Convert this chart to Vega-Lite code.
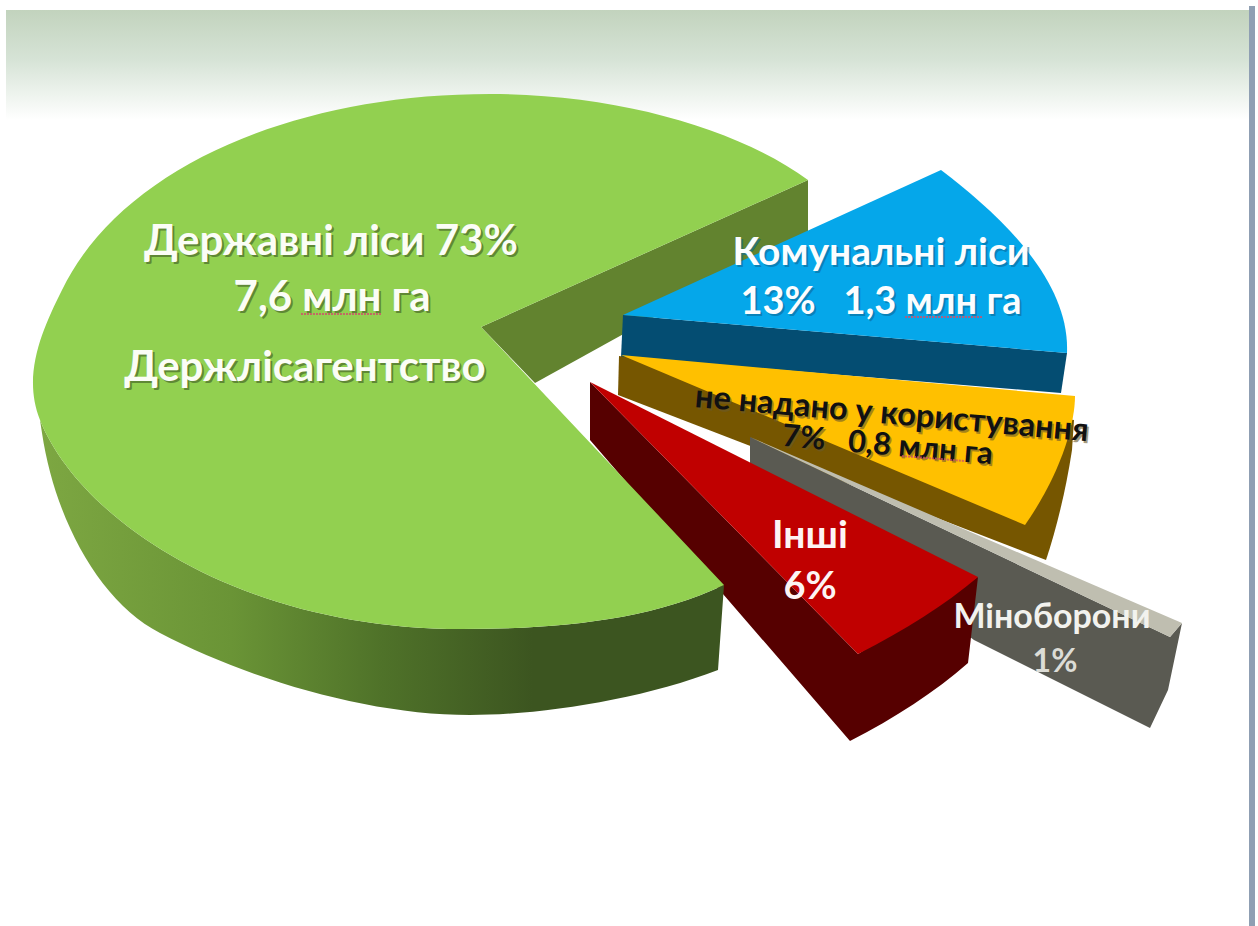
{"$schema":"https://vega.github.io/schema/vega-lite/v6.json","width":1258,"height":926,"autosize":{"type":"fit","contains":"padding"},"padding":0,"background":"#ffffff","config":{"view":{"stroke":null}},
"datasets":{"slices":[{"slice":"Державні ліси","share":73},{"slice":"Комунальні ліси","share":13},{"slice":"не надано у користування","share":7},{"slice":"Інші","share":6},{"slice":"Міноборони","share":1}],
"decor":[{"part":"band"},{"part":"edge"},{"part":"squiggle"}],
"labels":[{"id":1,"text":"Державні ліси 73%"},{"id":2,"text":"7,6 млн га"},{"id":3,"text":"Держлісагентство"},{"id":4,"text":"Комунальні ліси"},{"id":5,"text":"13%\u00a0\u00a0\u00a01,3 млн га"},{"id":6,"text":"не надано у користування"},{"id":7,"text":"7%\u00a0\u00a0\u00a00,8 млн га"},{"id":8,"text":"Інші"},{"id":9,"text":"6%"},{"id":10,"text":"Міноборони"},{"id":11,"text":"1%"}]},
"data":{"name":"slices"},
"layer":[
{"data":{"name":"decor"},"transform":[{"filter":"datum.part==='band'"}],"mark":{"type":"point","filled":true,"opacity":1,"size":4,"strokeWidth":0,"shape":"M-623,-453 L620,-453 L620,-343 L-623,-343 Z","fill":{"gradient":"linear","x1":0,"y1":0,"x2":0,"y2":1,"stops":[{"offset":0,"color":"#c2d3bd"},{"offset":0.45,"color":"#d6e3d6"},{"offset":1,"color":"#ffffff"}]}}},
{"data":{"name":"decor"},"transform":[{"filter":"datum.part==='edge'"}],"mark":{"type":"point","filled":true,"opacity":1,"size":4,"strokeWidth":0,"shape":"M620,-457 L626,-457 L626,463 L620,463 Z","fill":"#8f9fb3"}},
{"transform":[{"filter":"datum.share==73"}],"mark":{"type":"point","filled":true,"opacity":1,"size":4,"strokeWidth":0,"shape":"M-148,-136 L179,-283 L179,-231 L-94,-80 Z","fill":"#62832f"}},
{"transform":[{"filter":"datum.share==13"}],"mark":{"type":"point","filled":true,"opacity":1,"size":4,"strokeWidth":0,"shape":"M-6,-148 L438,-110 L432,-70 L-8,-106 Z","fill":"#044d72"}},
{"transform":[{"filter":"datum.share==13"}],"mark":{"type":"point","filled":true,"opacity":1,"size":4,"strokeWidth":0,"shape":"M-6,-148 L312,-293 C371,-248 441,-183 438,-110 Z","fill":"#05a7ea"}},
{"transform":[{"filter":"datum.share==7"}],"mark":{"type":"point","filled":true,"opacity":1,"size":4,"strokeWidth":0,"shape":"M-10,-107 L445,-43 L443,-13 C437,27 427,67 417,97 L-11,-68 Z","fill":"#765600"}},
{"transform":[{"filter":"datum.share==7"}],"mark":{"type":"point","filled":true,"opacity":1,"size":4,"strokeWidth":0,"shape":"M-8,-108 L446,-67 C446,-38 431,12 396,62 Z","fill":"#ffc000"}},
{"transform":[{"filter":"datum.share==1"}],"mark":{"type":"point","filled":true,"opacity":1,"size":4,"strokeWidth":0,"shape":"M121,-26 L121,7 L345,177 L521,265 L539,227 L553,160 L541,174 Z","fill":"#5a5a52"}},
{"transform":[{"filter":"datum.share==1"}],"mark":{"type":"point","filled":true,"opacity":1,"size":4,"strokeWidth":0,"shape":"M121,-26 L553,160 L541,174 Z","fill":"#bfbeb0"}},
{"transform":[{"filter":"datum.share==6"}],"mark":{"type":"point","filled":true,"opacity":1,"size":4,"strokeWidth":0,"shape":"M-39,-81 L-39,-23 L221,278 C266,255 306,229 339,200 L349,114 L229,191 Z","fill":"#560000"}},
{"transform":[{"filter":"datum.share==6"}],"mark":{"type":"point","filled":true,"opacity":1,"size":4,"strokeWidth":0,"shape":"M-39,-81 L349,114 C316,142 276,167 229,191 Z","fill":"#c00000"}},
{"transform":[{"filter":"datum.share==73"}],"mark":{"type":"point","filled":true,"opacity":1,"size":4,"strokeWidth":0,"shape":"M-589,-43 C-549,57 -389,166 -167,166 C-69,166 21,157 95,122 L89,207 C11,237 -89,252 -159,252 C-259,252 -379,217 -469,170 C-529,139 -574,57 -587,-30 Z","fill":{"gradient":"linear","x1":0,"y1":0,"x2":1,"y2":0,"stops":[{"offset":0,"color":"#7da742"},{"offset":0.28,"color":"#6a9436"},{"offset":0.5,"color":"#4f7229"},{"offset":0.72,"color":"#3c5520"},{"offset":1,"color":"#3c5520"}]}}},
{"transform":[{"filter":"datum.share==73"}],"mark":{"type":"point","filled":true,"opacity":1,"size":4,"strokeWidth":0,"shape":"M-148,-136 L179,-283 C111,-333 -9,-369 -139,-369 C-339,-369 -509,-293 -567,-173 C-587,-133 -607,-88 -589,-43 C-549,57 -389,166 -167,166 C-69,166 21,157 95,122 Z","fill":"#92d050"}},
{"data":{"name":"labels"},"transform":[{"filter":"datum.id==1"}],"mark":{"type":"text","dx":-296,"dy":-206,"fontSize":42,"fontWeight":"bold","font":"Lato","align":"center","baseline":"alphabetic","color":"#4a6b2a","opacity":0.7},"encoding":{"text":{"field":"text"}}},
{"data":{"name":"labels"},"transform":[{"filter":"datum.id==1"}],"mark":{"type":"text","dx":-298,"dy":-208,"fontSize":42,"fontWeight":"bold","font":"Lato","align":"center","baseline":"alphabetic","color":"#fbfdf6"},"encoding":{"text":{"field":"text"}}},
{"data":{"name":"labels"},"transform":[{"filter":"datum.id==2"}],"mark":{"type":"text","dx":-295,"dy":-150,"fontSize":42,"fontWeight":"bold","font":"Lato","align":"center","baseline":"alphabetic","color":"#4a6b2a","opacity":0.7},"encoding":{"text":{"field":"text"}}},
{"data":{"name":"labels"},"transform":[{"filter":"datum.id==2"}],"mark":{"type":"text","dx":-297,"dy":-152,"fontSize":42,"fontWeight":"bold","font":"Lato","align":"center","baseline":"alphabetic","color":"#fbfdf6"},"encoding":{"text":{"field":"text"}}},
{"data":{"name":"labels"},"transform":[{"filter":"datum.id==3"}],"mark":{"type":"text","dx":-322,"dy":-80,"fontSize":42,"fontWeight":"bold","font":"Lato","align":"center","baseline":"alphabetic","color":"#4a6b2a","opacity":0.7},"encoding":{"text":{"field":"text"}}},
{"data":{"name":"labels"},"transform":[{"filter":"datum.id==3"}],"mark":{"type":"text","dx":-324,"dy":-82,"fontSize":42,"fontWeight":"bold","font":"Lato","align":"center","baseline":"alphabetic","color":"#fbfdf6"},"encoding":{"text":{"field":"text"}}},
{"data":{"name":"labels"},"transform":[{"filter":"datum.id==4"}],"mark":{"type":"text","dx":254,"dy":-196,"fontSize":39,"fontWeight":"bold","font":"Lato","align":"center","baseline":"alphabetic","color":"#0a6a9a","opacity":0.6},"encoding":{"text":{"field":"text"}}},
{"data":{"name":"labels"},"transform":[{"filter":"datum.id==4"}],"mark":{"type":"text","dx":252,"dy":-198,"fontSize":39,"fontWeight":"bold","font":"Lato","align":"center","baseline":"alphabetic","color":"#fbfdff"},"encoding":{"text":{"field":"text"}}},
{"data":{"name":"labels"},"transform":[{"filter":"datum.id==5"}],"mark":{"type":"text","dx":254,"dy":-147,"fontSize":38,"fontWeight":"bold","font":"Lato","align":"center","baseline":"alphabetic","color":"#0a6a9a","opacity":0.6},"encoding":{"text":{"field":"text"}}},
{"data":{"name":"labels"},"transform":[{"filter":"datum.id==5"}],"mark":{"type":"text","dx":252,"dy":-149,"fontSize":38,"fontWeight":"bold","font":"Lato","align":"center","baseline":"alphabetic","color":"#fbfdff"},"encoding":{"text":{"field":"text"}}},
{"data":{"name":"labels"},"transform":[{"filter":"datum.id==6"}],"mark":{"type":"text","angle":5,"dx":259.5,"dy":-59.5,"fontSize":32.5,"fontWeight":"bold","font":"Lato","align":"center","baseline":"alphabetic","color":"#6b5a2a","opacity":0.6},"encoding":{"text":{"field":"text"}}},
{"data":{"name":"labels"},"transform":[{"filter":"datum.id==6"}],"mark":{"type":"text","angle":5,"dx":257.6,"dy":-61.6,"fontSize":32.5,"fontWeight":"bold","font":"Lato","align":"center","baseline":"alphabetic","color":"#111111"},"encoding":{"text":{"field":"text"}}},
{"data":{"name":"labels"},"transform":[{"filter":"datum.id==7"}],"mark":{"type":"text","angle":5,"dx":258,"dy":-28.5,"fontSize":31,"fontWeight":"bold","font":"Lato","align":"center","baseline":"alphabetic","color":"#6b5a2a","opacity":0.6},"encoding":{"text":{"field":"text"}}},
{"data":{"name":"labels"},"transform":[{"filter":"datum.id==7"}],"mark":{"type":"text","angle":5,"dx":256,"dy":-30.4,"fontSize":31,"fontWeight":"bold","font":"Lato","align":"center","baseline":"alphabetic","color":"#111111"},"encoding":{"text":{"field":"text"}}},
{"data":{"name":"labels"},"transform":[{"filter":"datum.id==8"}],"mark":{"type":"text","dx":181,"dy":85,"fontSize":39,"fontWeight":"bold","font":"Lato","align":"center","baseline":"alphabetic","color":"#fdf4f4"},"encoding":{"text":{"field":"text"}}},
{"data":{"name":"labels"},"transform":[{"filter":"datum.id==9"}],"mark":{"type":"text","dx":181,"dy":136,"fontSize":38,"fontWeight":"bold","font":"Lato","align":"center","baseline":"alphabetic","color":"#fdf4f4"},"encoding":{"text":{"field":"text"}}},
{"data":{"name":"labels"},"transform":[{"filter":"datum.id==10"}],"mark":{"type":"text","dx":423,"dy":165,"fontSize":34,"fontWeight":"bold","font":"Lato","align":"center","baseline":"alphabetic","color":"#f2f2ee"},"encoding":{"text":{"field":"text"}}},
{"data":{"name":"labels"},"transform":[{"filter":"datum.id==11"}],"mark":{"type":"text","dx":426,"dy":209,"fontSize":32,"fontWeight":"bold","font":"Lato","align":"center","baseline":"alphabetic","color":"#dcdcd6"},"encoding":{"text":{"field":"text"}}},
{"data":{"name":"decor"},"transform":[{"filter":"datum.part==='squiggle'"}],"mark":{"type":"point","filled":false,"opacity":0.8,"size":4,"stroke":"#d0506a","strokeWidth":2,"strokeDash":[2,1],"shape":"M-328,-149 L-247,-149 M276,-146 L353,-146 M273,-7 L336,-2"}}
]}
